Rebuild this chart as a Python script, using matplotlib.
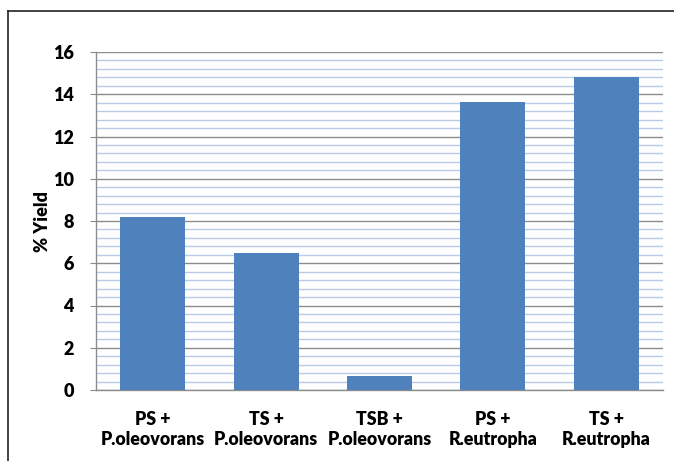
#!/usr/bin/env python3
"""Bar chart: % yield per substrate + strain combination."""
import matplotlib
matplotlib.use("Agg")
import matplotlib.pyplot as plt
from matplotlib.lines import Line2D
from matplotlib.ticker import MultipleLocator

plt.rcParams["font.family"] = ["Lato", "DejaVu Sans"]

categories = ["PS +\nP.oleovorans", "TS +\nP.oleovorans", "TSB +\nP.oleovorans",
              "PS +\nR.eutropha", "TS +\nR.eutropha"]
yield_pct = [8.2, 6.5, 0.65, 13.65, 14.8]

BAR_COLOR = "#4f81bd"
MAJOR_GRID = "#8c8c8c"
MINOR_GRID = "#b8cce8"

fig = plt.figure(figsize=(6.74, 4.61), dpi=100)
ax = fig.add_axes([96 / 674, 1 - 390 / 461, 567 / 674, 338 / 461])

x = range(len(categories))
ax.bar(x, yield_pct, width=0.573, color=BAR_COLOR, zorder=3)

ax.set_xlim(-0.5, len(categories) - 0.5)
ax.set_ylim(0, 16)
ax.yaxis.set_major_locator(MultipleLocator(2))
ax.yaxis.set_minor_locator(MultipleLocator(0.4))
ax.grid(which="major", axis="y", color=MAJOR_GRID, linewidth=1.0, zorder=1)
ax.grid(which="minor", axis="y", color=MINOR_GRID, linewidth=1.0, zorder=1)

for side in ["top", "right"]:
    ax.spines[side].set_visible(False)
for side in ["left", "bottom"]:
    ax.spines[side].set_color(MAJOR_GRID)
    ax.spines[side].set_linewidth(1.0)

ax.set_xticks(list(x))
ax.set_xticklabels(categories, fontsize=12.8, fontweight="heavy", linespacing=1.2)
ax.tick_params(axis="x", length=0, pad=15)
ax.tick_params(axis="y", which="major", length=4, color=MAJOR_GRID,
               labelsize=13, pad=12)
ax.tick_params(axis="y", which="minor", length=0)
for lbl in ax.get_yticklabels():
    lbl.set_fontweight("heavy")

ax.set_ylabel("% Yield", fontsize=13, fontweight="heavy")
ax.yaxis.set_label_coords(-0.08, 0.5)

# outer chart frame (right and bottom edges fall outside the image)
fig.add_artist(Line2D([8 / 674, 8 / 674], [0, 1 - 11 / 461],
                      transform=fig.transFigure, color="#222222", linewidth=1.2))
fig.add_artist(Line2D([8 / 674, 1], [1 - 11 / 461, 1 - 11 / 461],
                      transform=fig.transFigure, color="#222222", linewidth=1.2))

fig.savefig("out.png", dpi=100)
